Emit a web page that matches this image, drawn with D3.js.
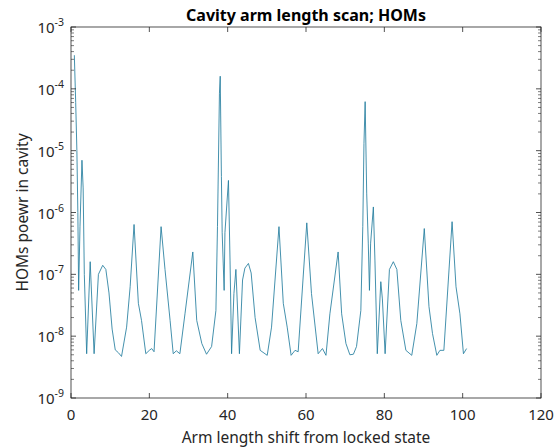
<!DOCTYPE html>
<html>
<head>
<meta charset="utf-8">
<script src="https://cdn.jsdelivr.net/npm/d3@7"></script>
<style>
    body { margin: 0; background: #fff; }
    svg { display: block; font-family: "Noto Sans", "Open Sans", sans-serif; }
</style>
</head>
<body>
<div id="chart"></div>
<script>
// Cavity arm length scan - HOM power vs arm length shift

// Arm length shift (x) and HOM power (y)
const armShift = [
    0.85, 1.2, 1.5, 1.75, 1.95, 2.3, 2.8, 3.1, 3.4, 4.0, 4.9, 5.9, 7.0, 8.1, 8.9, 9.7, 10.5, 11.3, 12.1, 12.9,
    14.2, 15.1, 16.1, 17.2, 18.0, 19.1, 20.0, 20.6, 21.2, 23.0, 24.0, 25.3, 26.1, 26.9, 27.8,
    29.1, 31.1, 32.1, 33.4, 34.6, 35.9, 37.0, 37.4, 37.9, 38.1, 38.4, 38.6, 39.1, 39.3, 40.2, 40.6, 41.0,
    41.6, 42.1, 43.0, 43.8, 44.4, 45.3, 46.0, 47.0, 48.3, 50.1, 51.2, 53.1, 54.2, 55.2, 56.2, 57.2, 58.0,
    60.2, 61.4, 63.1, 64.2, 65.1, 66.1, 68.2, 69.1, 70.2, 71.2, 72.1, 72.9, 74.0, 74.5, 74.8, 75.1, 75.5,
    75.9, 76.2, 76.5, 77.2, 77.6, 78.2, 79.1, 79.5, 80.2, 81.3, 82.3, 83.2, 84.2, 85.5, 87.0, 88.3,
    90.2, 91.4, 92.3, 93.4, 94.2, 95.2, 97.3, 98.3, 99.3, 100.2, 101.0
];
const homPower = [
    3.5e-4, 6.0e-5, 1.0e-5, 1.0e-6, 5.5e-8, 6.0e-7, 7.0e-6, 2.5e-6, 1.0e-7, 5.2e-9, 1.6e-7, 5.2e-9, 1.0e-7, 1.4e-7, 1.2e-7, 5.0e-8, 1.3e-8, 6.0e-9, 5.4e-9, 4.7e-9,
    1.4e-8, 6.3e-8, 6.4e-7, 3.4e-8, 1.8e-8, 5.2e-9, 5.9e-9, 6.3e-9, 5.6e-9, 5.9e-7, 1.2e-7, 1.8e-8, 5.2e-9, 5.8e-9, 5.2e-9,
    2.3e-8, 2.3e-7, 1.8e-8, 7.6e-9, 5.1e-9, 6.8e-9, 2.6e-8, 5.9e-7, 8.5e-5, 1.6e-4, 3.8e-6, 4.7e-7, 5.5e-8, 4.7e-7, 3.3e-6, 1.7e-7, 5.2e-9,
    4.9e-8, 1.2e-7, 5.2e-9, 8.1e-8, 1.26e-7, 1.5e-7, 1.05e-7, 2.0e-8, 5.9e-9, 4.9e-9, 1.4e-8, 5.9e-7, 3.4e-8, 1.4e-8, 4.9e-9, 5.9e-9, 5.6e-9,
    6.8e-7, 4.9e-8, 5.2e-9, 6.3e-9, 4.9e-9, 2.3e-8, 2.3e-7, 2.3e-8, 7.6e-9, 5.0e-9, 5.1e-9, 6.8e-9, 2.6e-8, 5.9e-7, 1.3e-5, 6.2e-5, 2.0e-6,
    3.2e-7, 5.5e-8, 3.2e-7, 1.23e-6, 1.7e-7, 5.2e-9, 7.6e-8, 4.0e-8, 5.2e-9, 1.2e-7, 1.6e-7, 1.2e-7, 1.8e-8, 5.9e-9, 4.9e-9, 1.6e-8,
    5.5e-7, 3.0e-8, 1.1e-8, 4.9e-9, 5.9e-9, 5.9e-9, 7.1e-7, 6.3e-8, 2.3e-8, 5.2e-9, 6.3e-9
];

// Axis ticks
const xTicks = [0, 20, 40, 60, 80, 100, 120];
const yExponents = [-9, -8, -7, -6, -5, -4, -3];

const titleText = "Cavity arm length scan; HOMs";
const xLabelText = "Arm length shift from locked state";
const yLabelText = "HOMs poewr in cavity";

const totalWidth = 558, totalHeight = 447;
const margin = { top: 27, right: 17, bottom: 49, left: 71 };
const width = totalWidth - margin.left - margin.right;
const height = totalHeight - margin.top - margin.bottom;
const axisColor = "#262626";
const lineColor = "#237d9e";

const svg = d3.select("#chart").append("svg")
    .attr("width", totalWidth)
    .attr("height", totalHeight);

const chart = svg.append("g")
    .attr("transform", `translate(${margin.left},${margin.top})`);

const xScale = d3.scaleLinear().domain([0, 120]).range([0, width]);
const yScale = d3.scaleLog().domain([1e-9, 1e-3]).range([height, 0]);

// Data line
const points = armShift.map((x, i) => ({ x: x, y: homPower[i] }));
const line = d3.line()
    .x(d => xScale(d.x))
    .y(d => yScale(d.y));

chart.append("path")
    .datum(points)
    .attr("fill", "none")
    .attr("stroke", lineColor)
    .attr("stroke-width", 0.85)
    .attr("stroke-linejoin", "round")
    .attr("d", line);

// Box
chart.append("rect")
    .attr("x", 0).attr("y", 0)
    .attr("width", width).attr("height", height)
    .attr("fill", "none")
    .attr("stroke", axisColor)
    .attr("stroke-width", 0.8);

// X ticks (inside, bottom and top)
const tickLen = 5;
xTicks.forEach(t => {
    const x = xScale(t);
    chart.append("line").attr("x1", x).attr("x2", x).attr("y1", height).attr("y2", height - tickLen)
        .attr("stroke", axisColor).attr("stroke-width", 0.8);
    chart.append("line").attr("x1", x).attr("x2", x).attr("y1", 0).attr("y2", tickLen)
        .attr("stroke", axisColor).attr("stroke-width", 0.8);
    chart.append("text")
        .attr("x", x)
        .attr("y", height + 22)
        .attr("text-anchor", "middle")
        .attr("fill", axisColor)
        .style("font-size", "15px")
        .text(t);
});

// Y ticks: major per decade, minor 2..9
yExponents.forEach(e => {
    const y = yScale(Math.pow(10, e));
    chart.append("line").attr("x1", 0).attr("x2", tickLen).attr("y1", y).attr("y2", y)
        .attr("stroke", axisColor).attr("stroke-width", 0.8);
    chart.append("line").attr("x1", width).attr("x2", width - tickLen).attr("y1", y).attr("y2", y)
        .attr("stroke", axisColor).attr("stroke-width", 0.8);

    const label = chart.append("text")
        .attr("x", -7)
        .attr("y", y + 6)
        .attr("text-anchor", "end")
        .attr("fill", axisColor)
        .style("font-size", "15px");
    label.append("tspan").text("10");
    label.append("tspan")
        .attr("dy", -7)
        .style("font-size", "10.5px")
        .text(e);

    if (e < -3) {
        for (let m = 2; m <= 9; m++) {
            const ym = yScale(m * Math.pow(10, e));
            chart.append("line").attr("x1", 0).attr("x2", 3).attr("y1", ym).attr("y2", ym)
                .attr("stroke", axisColor).attr("stroke-width", 0.6);
            chart.append("line").attr("x1", width).attr("x2", width - 3).attr("y1", ym).attr("y2", ym)
                .attr("stroke", axisColor).attr("stroke-width", 0.6);
        }
    }
});

// Title and axis labels
svg.append("text")
    .attr("x", margin.left + width / 2)
    .attr("y", 21)
    .attr("text-anchor", "middle")
    .attr("fill", "#000")
    .style("font-size", "16px")
    .style("font-weight", "bold")
    .text(titleText);

svg.append("text")
    .attr("x", margin.left + width / 2)
    .attr("y", 443)
    .attr("text-anchor", "middle")
    .attr("fill", axisColor)
    .style("font-size", "15.5px")
    .text(xLabelText);

svg.append("text")
    .attr("transform", `translate(28,${margin.top + height / 2}) rotate(-90)`)
    .attr("text-anchor", "middle")
    .attr("fill", axisColor)
    .style("font-size", "15.5px")
    .text(yLabelText);
</script>
</body>
</html>
